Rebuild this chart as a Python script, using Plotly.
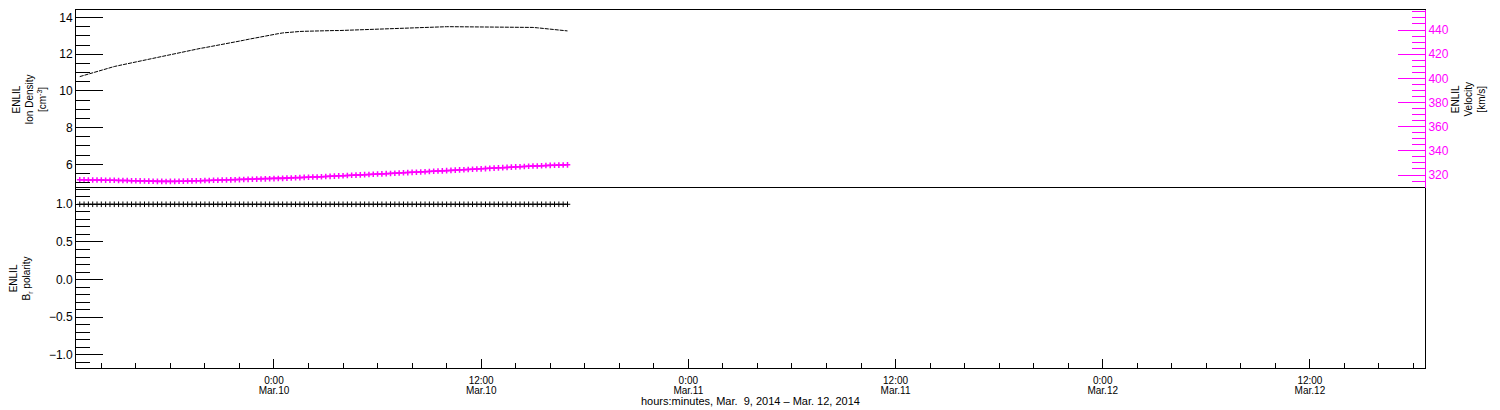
import pandas as pd
import plotly.graph_objects as go

# ENLIL model output, 15-minute samples from Mar 9 12:45 to Mar 10 17:00
density = [10.78, 10.85, 10.93, 11.01, 11.08, 11.15, 11.21, 11.27, 11.33, 11.38,
           11.43, 11.48, 11.53, 11.58, 11.63, 11.68, 11.73, 11.78, 11.84, 11.89,
           11.94, 12.00, 12.05, 12.09, 12.14, 12.18, 12.23, 12.27, 12.32, 12.36,
           12.40, 12.45, 12.49, 12.53, 12.58, 12.62, 12.67, 12.72, 12.76, 12.81,
           12.86, 12.90, 12.95, 13.00, 13.04, 13.08, 13.12, 13.16, 13.19, 13.21,
           13.23, 13.24, 13.25, 13.26, 13.26, 13.27, 13.27, 13.28, 13.28, 13.29,
           13.29, 13.30, 13.30, 13.31, 13.32, 13.33, 13.34, 13.35, 13.36, 13.37,
           13.38, 13.40, 13.41, 13.42, 13.43, 13.44, 13.45, 13.46, 13.47, 13.48,
           13.48, 13.49, 13.49, 13.50, 13.50, 13.50, 13.50, 13.50, 13.50, 13.50,
           13.50, 13.50, 13.50, 13.50, 13.50, 13.50, 13.50, 13.50, 13.49, 13.49,
           13.49, 13.48, 13.48, 13.47, 13.47, 13.46, 13.44, 13.42, 13.40, 13.38,
           13.35, 13.33, 13.30, 13.27]

velocity = [316.0, 316.0, 315.9, 315.9, 315.8, 315.8, 315.7, 315.7, 315.6, 315.5,
            315.5, 315.4, 315.3, 315.2, 315.1, 315.0, 314.9, 314.8, 314.7, 314.7,
            314.6, 314.7, 314.7, 314.8, 314.9, 315.0, 315.1, 315.2, 315.3, 315.4,
            315.5, 315.6, 315.7, 315.8, 315.9, 316.0, 316.1, 316.2, 316.3, 316.4,
            316.5, 316.6, 316.7, 316.8, 316.9, 317.0, 317.1, 317.2, 317.4, 317.5,
            317.7, 317.8, 318.0, 318.1, 318.3, 318.4, 318.6, 318.8, 318.9, 319.1,
            319.3, 319.4, 319.6, 319.8, 319.9, 320.1, 320.3, 320.4, 320.6, 320.8,
            320.9, 321.1, 321.3, 321.4, 321.6, 321.8, 322.0, 322.2, 322.3, 322.5,
            322.7, 322.9, 323.1, 323.3, 323.4, 323.6, 323.8, 324.0, 324.2, 324.4,
            324.6, 324.8, 325.0, 325.1, 325.3, 325.5, 325.7, 325.9, 326.1, 326.3,
            326.5, 326.7, 326.8, 327.0, 327.2, 327.4, 327.5, 327.7, 327.8, 328.0,
            328.1, 328.2, 328.3, 328.4]

times = pd.date_range("2014-03-09 12:45", periods=len(density), freq="15min")
polarity = [1.0] * len(times)

MAG = "#ff00ff"
FONT = "Liberation Sans"

fig = go.Figure()

fig.add_trace(go.Scatter(x=times, y=density, xaxis="x2", yaxis="y",
                         mode="lines", line=dict(color="black", width=1, dash="4px,1px")))
fig.add_trace(go.Scatter(x=times, y=velocity, xaxis="x2", yaxis="y2",
                         mode="lines+markers", line=dict(color=MAG, width=1.5),
                         marker=dict(symbol="cross-thin-open", size=4,
                                     line=dict(color=MAG, width=1.5))))
fig.add_trace(go.Scatter(x=times, y=polarity, xaxis="x", yaxis="y3",
                         mode="lines+markers", line=dict(color="black", width=1),
                         marker=dict(symbol="cross-thin-open", size=4,
                                     line=dict(color="black", width=1))))
# invisible carriers for the extra overlay axes (date row, velocity minor ticks)
fig.add_trace(go.Scatter(x=times, y=polarity, xaxis="x3", yaxis="y3",
                         mode="lines", line=dict(width=0), hoverinfo="skip"))
fig.add_trace(go.Scatter(x=times, y=velocity, xaxis="x2", yaxis="y4",
                         mode="lines", line=dict(width=0), hoverinfo="skip"))

xrange = ["2014-03-09 12:32", "2014-03-12 18:40"]
vrange = [309.24, 456.55]
split = 0.5028
HOUR = 3600 * 1000

# the page body has an 8px margin, so the figure is shrunk by that much
fig.update_layout(
    width=1492, height=402,
    margin=dict(l=68, r=75, t=2, b=42),
    paper_bgcolor="white", plot_bgcolor="white",
    showlegend=False,
    font=dict(family=FONT, size=12, color="black"),
    xaxis=dict(domain=[0, 1], anchor="y3", range=xrange, type="date",
               showgrid=False, zeroline=False,
               showline=True, linecolor="black", linewidth=1, mirror=True,
               ticks="inside", ticklen=9, tickcolor="black",
               tickmode="linear", tick0="2014-03-10 00:00", dtick=12 * HOUR,
               tickformat="%-H:%M", tickfont=dict(size=10), ticklabelstandoff=3,
               minor=dict(ticks="inside", ticklen=5, tickcolor="black",
                          tick0="2014-03-10 00:00", dtick=2 * HOUR, showgrid=False)),
    xaxis3=dict(matches="x", overlaying="x", anchor="y3", range=xrange, type="date",
                showgrid=False, zeroline=False, showline=False, ticks="",
                tickmode="linear", tick0="2014-03-10 00:00", dtick=12 * HOUR,
                tickformat="%b.%d", tickfont=dict(size=10), ticklabelstandoff=15),
    xaxis2=dict(matches="x", anchor="y", side="top", range=xrange, type="date",
                showgrid=False, zeroline=False, showticklabels=False, ticks="",
                showline=True, linecolor="black", linewidth=1, mirror=False),
    yaxis=dict(domain=[split, 1], anchor="x2", range=[4.71, 14.41],
               showgrid=False, zeroline=False,
               showline=True, linecolor="black", linewidth=1,
               ticks="inside", ticklen=27, tickcolor="black",
               tickmode="linear", tick0=0, dtick=2,
               minor=dict(ticks="inside", ticklen=14, tickcolor="black", dtick=0.5,
                          showgrid=False)),
    yaxis2=dict(overlaying="y", side="right", anchor="x2", range=vrange,
                showgrid=False, zeroline=False,
                showline=True, linecolor=MAG, linewidth=1,
                ticks="inside", ticklen=27, tickcolor=MAG,
                tickfont=dict(color=MAG),
                tickmode="linear", tick0=0, dtick=20),
    yaxis4=dict(overlaying="y", side="right", anchor="x2", range=vrange,
                showgrid=False, zeroline=False, showline=False,
                ticks="inside", ticklen=13, tickcolor=MAG, showticklabels=False,
                tickmode="linear", tick0=0, dtick=5),
    yaxis3=dict(domain=[0, split], anchor="x", range=[-1.173, 1.216],
                showgrid=False, zeroline=False,
                showline=True, linecolor="black", linewidth=1, mirror=True,
                ticks="inside", ticklen=27, tickcolor="black",
                tickmode="linear", tick0=0, dtick=0.5, tickformat=".1f",
                minor=dict(ticks="inside", ticklen=14, tickcolor="black", dtick=0.1,
                           showgrid=False)),
)

fig.add_annotation(text="ENLIL<br>Ion Density<br>[cm<sup>-3</sup>]",
                   xref="paper", yref="paper", x=-0.0341, y=0.75,
                   xanchor="center", yanchor="middle", textangle=-90,
                   showarrow=False, font=dict(size=10))
fig.add_annotation(text="ENLIL<br>Velocity<br>[km/s]",
                   xref="paper", yref="paper", x=1.0319, y=0.75,
                   xanchor="center", yanchor="middle", textangle=-90,
                   showarrow=False, font=dict(size=10))
fig.add_annotation(text="ENLIL<br>B<sub>r</sub> polarity",
                   xref="paper", yref="paper", x=-0.0408, y=0.25,
                   xanchor="center", yanchor="middle", textangle=-90,
                   showarrow=False, font=dict(size=10))
fig.add_annotation(text="hours:minutes, Mar.  9, 2014 \u2013 Mar. 12, 2014",
                   xref="paper", yref="paper", x=0.5, y=-0.092,
                   xanchor="center", yanchor="middle",
                   showarrow=False, font=dict(size=11))

fig.write_html("out.html")
